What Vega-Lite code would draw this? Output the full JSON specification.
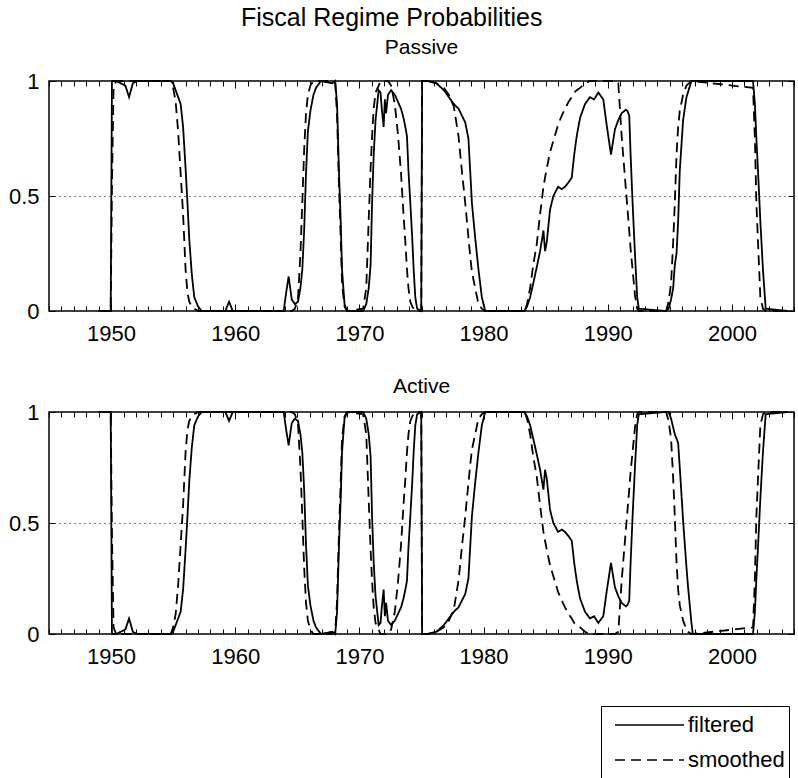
{
  "$schema": "https://vega.github.io/schema/vega-lite/v6.json",
  "padding": {"left": 0, "top": 6, "right": 0, "bottom": 0},
  "background": "white",
  "title": {"text": "Fiscal Regime Probabilities", "fontSize": 25, "anchor": "middle", "offset": 5, "dx": -6},
  "resolve": {"legend": {"strokeDash": "independent"}},
  "datasets": {
    "passive": [
      {"t":1949.0,"filtered":0,"smoothed":0},{"t":1949.97,"filtered":0,"smoothed":0},{"t":1950.07,"filtered":1,"smoothed":0.55},{"t":1950.2,"filtered":1,"smoothed":0.97},{"t":1950.4,"filtered":1,"smoothed":1},
      {"t":1951.15,"filtered":0.98,"smoothed":1},{"t":1951.45,"filtered":0.93,"smoothed":1},{"t":1951.75,"filtered":0.99,"smoothed":1},{"t":1952.1,"filtered":1,"smoothed":1},{"t":1954.8,"filtered":1,"smoothed":1},
      {"t":1955.0,"filtered":0.99,"smoothed":0.97},{"t":1955.2,"filtered":0.96,"smoothed":0.91},{"t":1955.4,"filtered":0.93,"smoothed":0.78},{"t":1955.6,"filtered":0.90,"smoothed":0.60},{"t":1955.8,"filtered":0.80,"smoothed":0.42},
      {"t":1956.0,"filtered":0.62,"smoothed":0.18},{"t":1956.15,"filtered":0.47,"smoothed":0.08},{"t":1956.3,"filtered":0.31,"smoothed":0.04},{"t":1956.5,"filtered":0.16,"smoothed":0.02},{"t":1956.7,"filtered":0.06,"smoothed":0.01},
      {"t":1957.0,"filtered":0.02,"smoothed":0},{"t":1957.3,"filtered":0,"smoothed":0},{"t":1959.2,"filtered":0,"smoothed":0},{"t":1959.5,"filtered":0.04,"smoothed":0},{"t":1959.8,"filtered":0,"smoothed":0},
      {"t":1963.9,"filtered":0,"smoothed":0},{"t":1964.1,"filtered":0.08,"smoothed":0},{"t":1964.3,"filtered":0.15,"smoothed":0},{"t":1964.55,"filtered":0.05,"smoothed":0},{"t":1964.8,"filtered":0.03,"smoothed":0.01},
      {"t":1965.05,"filtered":0.04,"smoothed":0.05},{"t":1965.25,"filtered":0.10,"smoothed":0.25},{"t":1965.4,"filtered":0.18,"smoothed":0.47},{"t":1965.55,"filtered":0.35,"smoothed":0.70},{"t":1965.7,"filtered":0.60,"smoothed":0.86},
      {"t":1965.85,"filtered":0.78,"smoothed":0.94},{"t":1966.05,"filtered":0.87,"smoothed":0.98},{"t":1966.3,"filtered":0.94,"smoothed":1},{"t":1966.5,"filtered":0.97,"smoothed":1},{"t":1966.9,"filtered":1,"smoothed":1},
      {"t":1967.8,"filtered":0.99,"smoothed":1},{"t":1968.05,"filtered":1,"smoothed":0.99},{"t":1968.2,"filtered":0.90,"smoothed":0.85},{"t":1968.35,"filtered":0.61,"smoothed":0.55},{"t":1968.5,"filtered":0.38,"smoothed":0.30},
      {"t":1968.6,"filtered":0.18,"smoothed":0.12},{"t":1968.8,"filtered":0.03,"smoothed":0.02},{"t":1969.0,"filtered":0,"smoothed":0},{"t":1970.3,"filtered":0,"smoothed":0.01},{"t":1970.55,"filtered":0.03,"smoothed":0.10},
      {"t":1970.75,"filtered":0.10,"smoothed":0.40},{"t":1970.9,"filtered":0.20,"smoothed":0.62},{"t":1971.02,"filtered":0.47,"smoothed":0.76},{"t":1971.15,"filtered":0.68,"smoothed":0.88},{"t":1971.3,"filtered":0.83,"smoothed":0.95},
      {"t":1971.55,"filtered":0.96,"smoothed":0.98},{"t":1971.7,"filtered":0.95,"smoothed":1},{"t":1971.8,"filtered":0.88,"smoothed":1},{"t":1971.95,"filtered":0.80,"smoothed":1},{"t":1972.05,"filtered":0.92,"smoothed":1},
      {"t":1972.15,"filtered":0.86,"smoothed":1},{"t":1972.3,"filtered":0.94,"smoothed":1},{"t":1972.55,"filtered":0.96,"smoothed":0.98},{"t":1972.85,"filtered":0.94,"smoothed":0.90},{"t":1973.1,"filtered":0.91,"smoothed":0.77},
      {"t":1973.35,"filtered":0.88,"smoothed":0.60},{"t":1973.55,"filtered":0.84,"smoothed":0.42},{"t":1973.7,"filtered":0.80,"smoothed":0.30},{"t":1973.83,"filtered":0.76,"smoothed":0.18},{"t":1973.95,"filtered":0.61,"smoothed":0.10},
      {"t":1974.1,"filtered":0.47,"smoothed":0.04},{"t":1974.25,"filtered":0.32,"smoothed":0.02},{"t":1974.37,"filtered":0.18,"smoothed":0.01},{"t":1974.5,"filtered":0.06,"smoothed":0},{"t":1974.65,"filtered":0.01,"smoothed":0},
      {"t":1974.98,"filtered":0,"smoothed":0},{"t":1975.05,"filtered":1,"smoothed":1},{"t":1975.5,"filtered":1,"smoothed":1},{"t":1976.2,"filtered":0.99,"smoothed":0.99},{"t":1976.8,"filtered":0.96,"smoothed":0.97},
      {"t":1977.2,"filtered":0.93,"smoothed":0.94},{"t":1977.6,"filtered":0.90,"smoothed":0.89},{"t":1977.98,"filtered":0.88,"smoothed":0.76},{"t":1978.25,"filtered":0.85,"smoothed":0.61},{"t":1978.52,"filtered":0.82,"smoothed":0.47},
      {"t":1978.78,"filtered":0.75,"smoothed":0.32},{"t":1978.92,"filtered":0.61,"smoothed":0.24},{"t":1979.06,"filtered":0.47,"smoothed":0.17},{"t":1979.32,"filtered":0.32,"smoothed":0.10},{"t":1979.59,"filtered":0.18,"smoothed":0.03},
      {"t":1979.86,"filtered":0.06,"smoothed":0.01},{"t":1980.13,"filtered":0,"smoothed":0},{"t":1983.3,"filtered":0,"smoothed":0},{"t":1983.5,"filtered":0.02,"smoothed":0.03},{"t":1983.75,"filtered":0.06,"smoothed":0.10},
      {"t":1984.0,"filtered":0.12,"smoothed":0.20},{"t":1984.28,"filtered":0.19,"smoothed":0.29},{"t":1984.55,"filtered":0.26,"smoothed":0.42},{"t":1984.82,"filtered":0.35,"smoothed":0.54},{"t":1984.95,"filtered":0.26,"smoothed":0.58},
      {"t":1985.09,"filtered":0.30,"smoothed":0.62},{"t":1985.35,"filtered":0.44,"smoothed":0.69},{"t":1985.62,"filtered":0.50,"smoothed":0.74},{"t":1986.0,"filtered":0.54,"smoothed":0.81},{"t":1986.3,"filtered":0.53,"smoothed":0.85},
      {"t":1986.56,"filtered":0.54,"smoothed":0.88},{"t":1986.85,"filtered":0.56,"smoothed":0.91},{"t":1987.1,"filtered":0.58,"smoothed":0.93},{"t":1987.3,"filtered":0.68,"smoothed":0.95},{"t":1987.5,"filtered":0.76,"smoothed":0.96},
      {"t":1987.77,"filtered":0.84,"smoothed":0.97},{"t":1988.17,"filtered":0.90,"smoothed":0.99},{"t":1988.57,"filtered":0.93,"smoothed":1},{"t":1988.9,"filtered":0.92,"smoothed":1},{"t":1989.24,"filtered":0.95,"smoothed":1},
      {"t":1989.64,"filtered":0.92,"smoothed":1},{"t":1989.91,"filtered":0.81,"smoothed":1},{"t":1990.26,"filtered":0.68,"smoothed":1},{"t":1990.58,"filtered":0.79,"smoothed":1},{"t":1990.85,"filtered":0.83,"smoothed":0.99},
      {"t":1991.12,"filtered":0.86,"smoothed":0.76},{"t":1991.46,"filtered":0.875,"smoothed":0.53},{"t":1991.58,"filtered":0.87,"smoothed":0.45},{"t":1991.73,"filtered":0.85,"smoothed":0.35},{"t":1991.84,"filtered":0.68,"smoothed":0.27},
      {"t":1992.0,"filtered":0.47,"smoothed":0.18},{"t":1992.19,"filtered":0.25,"smoothed":0.07},{"t":1992.37,"filtered":0.06,"smoothed":0.01},{"t":1992.5,"filtered":0.01,"smoothed":0},{"t":1994.7,"filtered":0,"smoothed":0},
      {"t":1994.9,"filtered":0.01,"smoothed":0.04},{"t":1995.1,"filtered":0.05,"smoothed":0.12},{"t":1995.27,"filtered":0.10,"smoothed":0.30},{"t":1995.4,"filtered":0.20,"smoothed":0.47},{"t":1995.54,"filtered":0.25,"smoothed":0.68},
      {"t":1995.67,"filtered":0.39,"smoothed":0.80},{"t":1995.8,"filtered":0.61,"smoothed":0.87},{"t":1996.07,"filtered":0.83,"smoothed":0.94},{"t":1996.34,"filtered":0.93,"smoothed":0.98},{"t":1996.74,"filtered":1,"smoothed":1},
      {"t":2001.7,"filtered":1,"smoothed":0.97},{"t":2001.85,"filtered":0.90,"smoothed":0.75},{"t":2001.97,"filtered":0.75,"smoothed":0.47},{"t":2002.1,"filtered":0.61,"smoothed":0.30},{"t":2002.29,"filtered":0.39,"smoothed":0.06},
      {"t":2002.5,"filtered":0.18,"smoothed":0.01},{"t":2002.72,"filtered":0.01,"smoothed":0},{"t":2004.5,"filtered":0,"smoothed":0}
    ],
    "active": [
      {"t":1949.0,"filtered":1,"smoothed":1},{"t":1949.97,"filtered":1,"smoothed":1},{"t":1950.07,"filtered":0,"smoothed":0.45},{"t":1950.2,"filtered":0,"smoothed":0.03},{"t":1950.4,"filtered":0,"smoothed":0},
      {"t":1951.15,"filtered":0.02,"smoothed":0},{"t":1951.45,"filtered":0.07,"smoothed":0},{"t":1951.75,"filtered":0.01,"smoothed":0},{"t":1952.1,"filtered":0,"smoothed":0},{"t":1954.8,"filtered":0,"smoothed":0},
      {"t":1955.0,"filtered":0.01,"smoothed":0.03},{"t":1955.2,"filtered":0.04,"smoothed":0.09},{"t":1955.4,"filtered":0.07,"smoothed":0.22},{"t":1955.6,"filtered":0.10,"smoothed":0.40},{"t":1955.8,"filtered":0.20,"smoothed":0.58},
      {"t":1956.0,"filtered":0.38,"smoothed":0.82},{"t":1956.15,"filtered":0.53,"smoothed":0.92},{"t":1956.3,"filtered":0.69,"smoothed":0.96},{"t":1956.5,"filtered":0.84,"smoothed":0.98},{"t":1956.7,"filtered":0.94,"smoothed":0.99},
      {"t":1957.0,"filtered":0.98,"smoothed":1},{"t":1957.3,"filtered":1,"smoothed":1},{"t":1959.2,"filtered":1,"smoothed":1},{"t":1959.5,"filtered":0.96,"smoothed":1},{"t":1959.8,"filtered":1,"smoothed":1},
      {"t":1963.9,"filtered":1,"smoothed":1},{"t":1964.1,"filtered":0.92,"smoothed":1},{"t":1964.3,"filtered":0.85,"smoothed":1},{"t":1964.55,"filtered":0.95,"smoothed":1},{"t":1964.8,"filtered":0.97,"smoothed":0.99},
      {"t":1965.05,"filtered":0.96,"smoothed":0.95},{"t":1965.25,"filtered":0.90,"smoothed":0.75},{"t":1965.4,"filtered":0.82,"smoothed":0.53},{"t":1965.55,"filtered":0.65,"smoothed":0.30},{"t":1965.7,"filtered":0.40,"smoothed":0.14},
      {"t":1965.85,"filtered":0.22,"smoothed":0.06},{"t":1966.05,"filtered":0.13,"smoothed":0.02},{"t":1966.3,"filtered":0.06,"smoothed":0},{"t":1966.5,"filtered":0.03,"smoothed":0},{"t":1966.9,"filtered":0,"smoothed":0},
      {"t":1967.8,"filtered":0.01,"smoothed":0},{"t":1968.05,"filtered":0,"smoothed":0.01},{"t":1968.2,"filtered":0.10,"smoothed":0.15},{"t":1968.35,"filtered":0.39,"smoothed":0.45},{"t":1968.5,"filtered":0.62,"smoothed":0.70},
      {"t":1968.6,"filtered":0.82,"smoothed":0.88},{"t":1968.8,"filtered":0.97,"smoothed":0.98},{"t":1969.0,"filtered":1,"smoothed":1},{"t":1970.3,"filtered":1,"smoothed":0.99},{"t":1970.55,"filtered":0.97,"smoothed":0.90},
      {"t":1970.75,"filtered":0.90,"smoothed":0.60},{"t":1970.9,"filtered":0.80,"smoothed":0.38},{"t":1971.02,"filtered":0.53,"smoothed":0.24},{"t":1971.15,"filtered":0.32,"smoothed":0.12},{"t":1971.3,"filtered":0.17,"smoothed":0.05},
      {"t":1971.55,"filtered":0.04,"smoothed":0.02},{"t":1971.7,"filtered":0.05,"smoothed":0},{"t":1971.8,"filtered":0.12,"smoothed":0},{"t":1971.95,"filtered":0.20,"smoothed":0},{"t":1972.05,"filtered":0.08,"smoothed":0},
      {"t":1972.15,"filtered":0.14,"smoothed":0},{"t":1972.3,"filtered":0.06,"smoothed":0},{"t":1972.55,"filtered":0.04,"smoothed":0.02},{"t":1972.85,"filtered":0.06,"smoothed":0.10},{"t":1973.1,"filtered":0.09,"smoothed":0.23},
      {"t":1973.35,"filtered":0.12,"smoothed":0.40},{"t":1973.55,"filtered":0.16,"smoothed":0.58},{"t":1973.7,"filtered":0.20,"smoothed":0.70},{"t":1973.83,"filtered":0.24,"smoothed":0.82},{"t":1973.95,"filtered":0.39,"smoothed":0.90},
      {"t":1974.1,"filtered":0.53,"smoothed":0.96},{"t":1974.25,"filtered":0.68,"smoothed":0.98},{"t":1974.37,"filtered":0.82,"smoothed":0.99},{"t":1974.5,"filtered":0.94,"smoothed":1},{"t":1974.65,"filtered":0.99,"smoothed":1},
      {"t":1974.98,"filtered":1,"smoothed":1},{"t":1975.05,"filtered":0,"smoothed":0},{"t":1975.5,"filtered":0,"smoothed":0},{"t":1976.2,"filtered":0.01,"smoothed":0.01},{"t":1976.8,"filtered":0.04,"smoothed":0.03},
      {"t":1977.2,"filtered":0.07,"smoothed":0.06},{"t":1977.6,"filtered":0.10,"smoothed":0.11},{"t":1977.98,"filtered":0.12,"smoothed":0.24},{"t":1978.25,"filtered":0.15,"smoothed":0.39},{"t":1978.52,"filtered":0.18,"smoothed":0.53},
      {"t":1978.78,"filtered":0.25,"smoothed":0.68},{"t":1978.92,"filtered":0.39,"smoothed":0.76},{"t":1979.06,"filtered":0.53,"smoothed":0.83},{"t":1979.32,"filtered":0.68,"smoothed":0.90},{"t":1979.59,"filtered":0.82,"smoothed":0.97},
      {"t":1979.86,"filtered":0.94,"smoothed":0.99},{"t":1980.13,"filtered":1,"smoothed":1},{"t":1983.3,"filtered":1,"smoothed":1},{"t":1983.5,"filtered":0.98,"smoothed":0.97},{"t":1983.75,"filtered":0.94,"smoothed":0.90},
      {"t":1984.0,"filtered":0.88,"smoothed":0.80},{"t":1984.28,"filtered":0.81,"smoothed":0.71},{"t":1984.55,"filtered":0.74,"smoothed":0.58},{"t":1984.82,"filtered":0.65,"smoothed":0.46},{"t":1984.95,"filtered":0.74,"smoothed":0.42},
      {"t":1985.09,"filtered":0.70,"smoothed":0.38},{"t":1985.35,"filtered":0.56,"smoothed":0.31},{"t":1985.62,"filtered":0.50,"smoothed":0.26},{"t":1986.0,"filtered":0.46,"smoothed":0.19},{"t":1986.3,"filtered":0.47,"smoothed":0.15},
      {"t":1986.56,"filtered":0.46,"smoothed":0.12},{"t":1986.85,"filtered":0.44,"smoothed":0.09},{"t":1987.1,"filtered":0.42,"smoothed":0.07},{"t":1987.3,"filtered":0.32,"smoothed":0.05},{"t":1987.5,"filtered":0.24,"smoothed":0.04},
      {"t":1987.77,"filtered":0.16,"smoothed":0.03},{"t":1988.17,"filtered":0.10,"smoothed":0.01},{"t":1988.57,"filtered":0.07,"smoothed":0},{"t":1988.9,"filtered":0.08,"smoothed":0},{"t":1989.24,"filtered":0.05,"smoothed":0},
      {"t":1989.64,"filtered":0.08,"smoothed":0},{"t":1989.91,"filtered":0.19,"smoothed":0},{"t":1990.26,"filtered":0.32,"smoothed":0},{"t":1990.58,"filtered":0.21,"smoothed":0},{"t":1990.85,"filtered":0.17,"smoothed":0.01},
      {"t":1991.12,"filtered":0.14,"smoothed":0.24},{"t":1991.46,"filtered":0.125,"smoothed":0.47},{"t":1991.58,"filtered":0.13,"smoothed":0.55},{"t":1991.73,"filtered":0.15,"smoothed":0.65},{"t":1991.84,"filtered":0.32,"smoothed":0.73},
      {"t":1992.0,"filtered":0.53,"smoothed":0.82},{"t":1992.19,"filtered":0.75,"smoothed":0.93},{"t":1992.37,"filtered":0.94,"smoothed":0.99},{"t":1992.5,"filtered":0.99,"smoothed":1},{"t":1994.7,"filtered":1,"smoothed":1},
      {"t":1994.9,"filtered":1,"smoothed":0.96},{"t":1995.1,"filtered":0.97,"smoothed":0.88},{"t":1995.27,"filtered":0.93,"smoothed":0.70},{"t":1995.4,"filtered":0.90,"smoothed":0.53},{"t":1995.54,"filtered":0.88,"smoothed":0.32},
      {"t":1995.67,"filtered":0.86,"smoothed":0.20},{"t":1995.8,"filtered":0.75,"smoothed":0.13},{"t":1996.07,"filtered":0.51,"smoothed":0.06},{"t":1996.34,"filtered":0.30,"smoothed":0.02},{"t":1996.47,"filtered":0.21,"smoothed":0.01},
      {"t":1996.74,"filtered":0.05,"smoothed":0},{"t":1996.85,"filtered":0,"smoothed":0},
      {"t":2001.7,"filtered":0,"smoothed":0.03},{"t":2001.85,"filtered":0.10,"smoothed":0.25},{"t":2001.97,"filtered":0.25,"smoothed":0.53},{"t":2002.1,"filtered":0.39,"smoothed":0.70},{"t":2002.29,"filtered":0.61,"smoothed":0.94},
      {"t":2002.5,"filtered":0.82,"smoothed":0.99},{"t":2002.72,"filtered":0.99,"smoothed":1},{"t":2004.5,"filtered":1,"smoothed":1}
    ]
  },
  "spacing": 28,
  "vconcat": [
    {
      "data": {"name": "passive"},
      "width": 745,
      "height": 230,
      "title": {"text": "Passive", "fontSize": 21, "offset": 12, "anchor": "middle"},
      "transform": [{"fold": ["filtered", "smoothed"], "as": ["series", "p"]}],
      "layer": [
        {
          "mark": {"type": "line", "color": "black", "strokeWidth": 1.8},
          "encoding": {
            "x": {"field": "t", "type": "quantitative", "scale": {"domain": [1945, 2005], "nice": false, "zero": false},
              "axis": {"orient": "bottom", "values": [1945,1946,1947,1948,1949,1950,1951,1952,1953,1954,1955,1956,1957,1958,1959,1960,1961,1962,1963,1964,1965,1966,1967,1968,1969,1970,1971,1972,1973,1974,1975,1976,1977,1978,1979,1980,1981,1982,1983,1984,1985,1986,1987,1988,1989,1990,1991,1992,1993,1994,1995,1996,1997,1998,1999,2000,2001,2002,2003,2004,2005],
                "format": "d", "labelExpr": "datum.value % 10 === 0 ? datum.label : ''", "tickSize": {"condition": {"test": "datum.value % 10 === 0", "value": -7}, "value": -5}, "labelPadding": 19, "grid": false}},
            "y": {"field": "p", "type": "quantitative", "scale": {"domain": [0, 1], "nice": false},
              "axis": {"orient": "left", "values": [0, 0.5, 1], "format": "~g", "tickSize": -6, "labelPadding": 16, "grid": true, "gridColor": "black", "gridDash": [1, 4], "gridWidth": 1, "gridOpacity": {"condition": {"test": "datum.value === 0.5", "value": 1}, "value": 0}, "minExtent": 48, "maxExtent": 48}},
            "strokeDash": {"field": "series", "type": "nominal", "scale": {"domain": ["filtered", "smoothed"], "range": [[1, 0], [10, 6]]}, "legend": null}
          }
        },
        {
          "mark": {"type": "line", "opacity": 0},
          "encoding": {
            "x": {"field": "t", "type": "quantitative", "scale": {"domain": [1945, 2005], "nice": false, "zero": false},
              "axis": {"orient": "top", "values": [1945,1946,1947,1948,1949,1950,1951,1952,1953,1954,1955,1956,1957,1958,1959,1960,1961,1962,1963,1964,1965,1966,1967,1968,1969,1970,1971,1972,1973,1974,1975,1976,1977,1978,1979,1980,1981,1982,1983,1984,1985,1986,1987,1988,1989,1990,1991,1992,1993,1994,1995,1996,1997,1998,1999,2000,2001,2002,2003,2004,2005],
                "labels": false, "tickSize": {"condition": {"test": "datum.value % 10 === 0", "value": -7}, "value": -5}, "grid": false}},
            "y": {"field": "p", "type": "quantitative", "scale": {"domain": [0, 1], "nice": false},
              "axis": {"orient": "right", "values": [0, 0.5, 1], "labels": false, "tickSize": -6, "grid": false}},
            "detail": {"field": "series"}
          }
        }
      ]
    },
    {
      "data": {"name": "active"},
      "width": 745,
      "height": 222,
      "title": {"text": "Active", "fontSize": 21, "offset": 4, "anchor": "middle"},
      "transform": [{"fold": ["filtered", "smoothed"], "as": ["series", "p"]}],
      "layer": [
        {
          "mark": {"type": "line", "color": "black", "strokeWidth": 1.8},
          "encoding": {
            "x": {"field": "t", "type": "quantitative", "scale": {"domain": [1945, 2005], "nice": false, "zero": false},
              "axis": {"orient": "bottom", "values": [1945,1946,1947,1948,1949,1950,1951,1952,1953,1954,1955,1956,1957,1958,1959,1960,1961,1962,1963,1964,1965,1966,1967,1968,1969,1970,1971,1972,1973,1974,1975,1976,1977,1978,1979,1980,1981,1982,1983,1984,1985,1986,1987,1988,1989,1990,1991,1992,1993,1994,1995,1996,1997,1998,1999,2000,2001,2002,2003,2004,2005],
                "format": "d", "labelExpr": "datum.value % 10 === 0 ? datum.label : ''", "tickSize": {"condition": {"test": "datum.value % 10 === 0", "value": -7}, "value": -5}, "labelPadding": 19, "grid": false}},
            "y": {"field": "p", "type": "quantitative", "scale": {"domain": [0, 1], "nice": false},
              "axis": {"orient": "left", "values": [0, 0.5, 1], "format": "~g", "tickSize": -6, "labelPadding": 16, "grid": true, "gridColor": "black", "gridDash": [1, 4], "gridWidth": 1, "gridOpacity": {"condition": {"test": "datum.value === 0.5", "value": 1}, "value": 0}, "minExtent": 48, "maxExtent": 48}},
            "strokeDash": {"field": "series", "type": "nominal", "scale": {"domain": ["filtered", "smoothed"], "range": [[1, 0], [10, 6]]},
              "legend": {"title": null, "orient": "none", "legendX": 552, "legendY": 294, "direction": "vertical", "strokeColor": "black", "fillColor": "white", "padding": 4, "cornerRadius": 0, "symbolType": "stroke", "symbolSize": 4761, "symbolStrokeWidth": 1.5, "symbolStrokeColor": "black", "symbolOffset": 9, "labelFont": "Liberation Sans", "labelFontSize": 22, "labelColor": "black", "labelOffset": 3, "clipHeight": 30, "rowPadding": 5}}
          }
        },
        {
          "mark": {"type": "line", "opacity": 0},
          "encoding": {
            "x": {"field": "t", "type": "quantitative", "scale": {"domain": [1945, 2005], "nice": false, "zero": false},
              "axis": {"orient": "top", "values": [1945,1946,1947,1948,1949,1950,1951,1952,1953,1954,1955,1956,1957,1958,1959,1960,1961,1962,1963,1964,1965,1966,1967,1968,1969,1970,1971,1972,1973,1974,1975,1976,1977,1978,1979,1980,1981,1982,1983,1984,1985,1986,1987,1988,1989,1990,1991,1992,1993,1994,1995,1996,1997,1998,1999,2000,2001,2002,2003,2004,2005],
                "labels": false, "tickSize": {"condition": {"test": "datum.value % 10 === 0", "value": -7}, "value": -5}, "grid": false}},
            "y": {"field": "p", "type": "quantitative", "scale": {"domain": [0, 1], "nice": false},
              "axis": {"orient": "right", "values": [0, 0.5, 1], "labels": false, "tickSize": -6, "grid": false}},
            "detail": {"field": "series"}
          }
        }
      ]
    }
  ],
  "config": {
    "font": "Liberation Sans",
    "view": {"stroke": "black", "strokeWidth": 1.5},
    "title": {"font": "Liberation Sans", "fontWeight": "normal", "color": "black"},
    "axis": {"labelFont": "Liberation Sans", "labelFontSize": 22, "labelColor": "black", "tickColor": "black", "tickWidth": 1, "domain": false, "title": null, "labelFlush": false, "labelOverlap": false, "labelBound": false}
  }
}
